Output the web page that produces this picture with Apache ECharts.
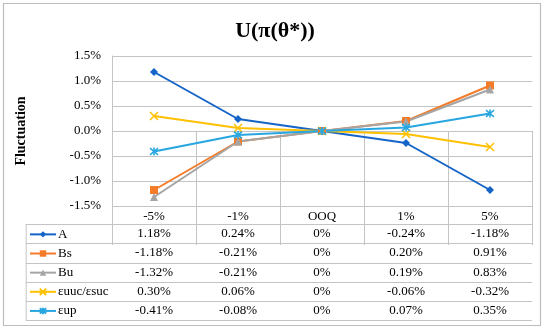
<!DOCTYPE html>
<html>
<head>
<meta charset="utf-8">
<script src="https://cdn.jsdelivr.net/npm/echarts@6/dist/echarts.min.js"></script>
<style>html,body{margin:0;padding:0;background:#fff}#c{width:550px;height:330px}</style>
</head>
<body>
<div id="c"></div>
<script>
const categories = ['-5%', '-1%', 'OOQ', '1%', '5%'];
const seriesNames = ['A', 'Bs', 'Bu', 'εuuc/εsuc', 'εup'];
const valuesA  = [1.18, 0.24, 0, -0.24, -1.18];
const valuesBs = [-1.18, -0.21, 0, 0.20, 0.91];
const valuesBu = [-1.32, -0.21, 0, 0.19, 0.83];
const valuesEuuc = [0.30, 0.06, 0, -0.06, -0.32];
const valuesEup = [-0.41, -0.08, 0, 0.07, 0.35];
const yTicks = { min: -1.5, max: 1.5, interval: 0.5 };

const allValues = [valuesA, valuesBs, valuesBu, valuesEuuc, valuesEup];
const colors = ['#1565C8', '#F47B28', '#A5A5A5', '#FFC000', '#27A6E0'];
const symbols = ['diamond', 'rect', 'triangle',
  'path://M0,0 L10,10 M10,0 L0,10',
  'path://M0,0 L10,10 M10,0 L0,10 M5,-1 L5,11'];
const symbolSizes = [8, 8, 8, 8, 8];

const FONT = '"Liberation Serif", "Times New Roman", serif';
const G = { left: 112, right: 18, top: 56, bottom: 124 };
const W = 550, H = 330;
const plotBottom = H - G.bottom;          // 206
const headerH = 18.3;
const rowH = 19.14;
const tableLeft = 25.7;
const tableRight = W - G.right;
const rowsTop = plotBottom + headerH;     // ~224.3
const gridColor = '#c4c4c4';

function fmtCell(v) {
  if (v === 0) return '0%';
  return v.toFixed(2) + '%';
}

const xAxes = [{
  type: 'category', data: categories, gridIndex: 0, position: 'bottom',
  boundaryGap: true,
  axisLine: { show: false },
  axisTick: { show: true, length: headerH + rowH * 5, lineStyle: { color: gridColor } },
  axisLabel: { fontFamily: FONT, fontSize: 13, color: '#000', margin: 3, lineHeight: 15, interval: 0 }
}];
allValues.forEach((vals, i) => {
  xAxes.push({
    type: 'category', data: vals.map(fmtCell), gridIndex: 0, position: 'bottom',
    offset: headerH + rowH * i + rowH / 2 - 7.5,
    axisLine: { show: false }, axisTick: { show: false },
    axisLabel: { fontFamily: FONT, fontSize: 13, color: '#000', margin: 0, lineHeight: 15, interval: 0 }
  });
});

const graphics = [
  { type: 'rect', shape: { x: 3.5, y: 3.5, width: 537, height: 322 }, style: { fill: 'none', stroke: '#bdbdbd', lineWidth: 1.2 }, silent: true }
];
for (let i = 0; i <= 5; i++) {
  const y = Math.round(rowsTop + rowH * i) + 0.5;
  graphics.push({ type: 'line', shape: { x1: tableLeft, y1: y, x2: tableRight, y2: y }, style: { stroke: gridColor, lineWidth: 1 }, silent: true });
}
graphics.push({ type: 'line', shape: { x1: tableLeft + 0.5, y1: rowsTop, x2: tableLeft + 0.5, y2: rowsTop + rowH * 5 }, style: { stroke: gridColor, lineWidth: 1 }, silent: true });

const series = seriesNames.map((name, i) => ({
  name, type: 'line', data: allValues[i], xAxisIndex: 0,
  symbol: symbols[i], symbolSize: symbolSizes[i],
  lineStyle: { color: colors[i], width: 2 },
  itemStyle: { color: colors[i], borderColor: colors[i], borderWidth: i >= 3 ? 1.5 : 0 },
  emphasis: { disabled: true },
  animation: false
}));

const legendItemH = 8;
const legendTextH = 13;

const chart = echarts.init(document.getElementById('c'), null, { renderer: 'canvas' });
chart.setOption({
  animation: false,
  title: {
    text: 'U(π(θ*))', left: 'center', top: 15,
    textStyle: { fontFamily: FONT, fontSize: 22, fontWeight: 'bold', color: '#000' }
  },
  legend: {
    orient: 'vertical', left: 29, top: rowsTop + (rowH - legendTextH) / 2 + 0.5,
    itemWidth: 26, itemHeight: legendItemH, itemGap: rowH - legendTextH,
    data: seriesNames,
    textStyle: { fontFamily: FONT, fontSize: 13, color: '#000', padding: [0, 0, 0, -3], lineHeight: legendTextH },
    padding: 0, selectedMode: false
  },
  grid: { left: G.left, right: G.right, top: G.top, bottom: G.bottom, containLabel: false },
  xAxis: xAxes,
  yAxis: {
    type: 'value', min: yTicks.min, max: yTicks.max, interval: yTicks.interval,
    name: 'Fluctuation', nameLocation: 'middle', nameRotate: 90, nameGap: 84,
    nameTextStyle: { fontFamily: FONT, fontSize: 14, fontWeight: 'bold', color: '#000' },
    axisLine: { show: true, lineStyle: { color: gridColor } },
    axisTick: { show: false },
    splitLine: { lineStyle: { color: gridColor } },
    axisLabel: { fontFamily: FONT, fontSize: 13, color: '#000', margin: 11, formatter: v => v.toFixed(1) + '%' }
  },
  graphic: graphics,
  series
});
</script>
</body>
</html>
